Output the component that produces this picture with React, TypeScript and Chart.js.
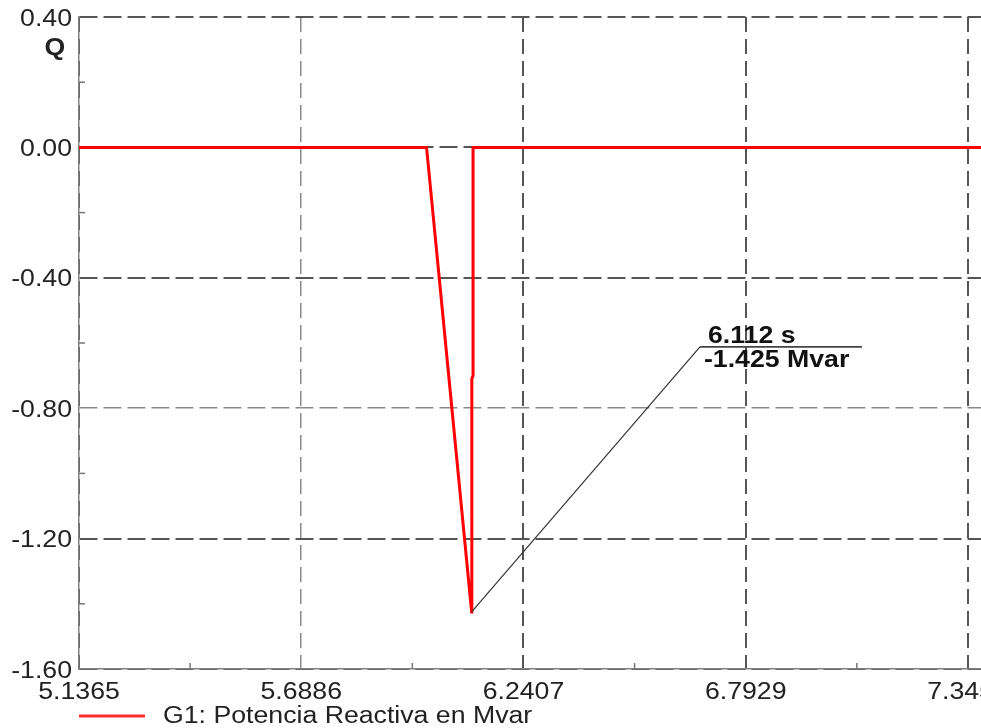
import React, { useEffect, useRef } from "react";
import { Chart, registerables } from "chart.js";

Chart.register(...registerables);

// ---- data ----
const times = [5.1365, 6.0, 6.112, 6.1125, 6.1155, 6.1155, 7.3775];
const qValues = [0, 0, -1.425, -0.71, -0.70, 0, 0];
const xTicks = [5.1365, 5.68863, 6.24076, 6.79289, 7.34502];
const xTickLabels = ["5.1365", "5.6886", "6.2407", "6.7929", "7.3450"];
const yTicks = [0.4, 0, -0.4, -0.8, -1.2, -1.6];
const yTickLabels = ["0.40", "0.00", "-0.40", "-0.80", "-1.20", "-1.60"];
const yMinor = [0.2, -0.2, -0.6, -1.0, -1.4];
const peakTime = 6.112;
const peakValue = -1.425;
const annotationX = [6.6793, 7.0817];
const annotationY = -0.612;
const seriesLabel = "G1: Potencia Reactiva en Mvar";
const yAxisTitle = "Q";
const lightXGrid = [5.68863];
const lightYGrid = [-0.8];

const SX = 1.16;
const TEXT = "#222222";

function drawText(
  ctx: CanvasRenderingContext2D,
  text: string,
  x: number,
  y: number,
  align: "left" | "center" | "right",
  font: string,
  color = TEXT
) {
  ctx.save();
  ctx.font = font;
  ctx.fillStyle = color;
  ctx.textBaseline = "alphabetic";
  ctx.textAlign = "left";
  const w = ctx.measureText(text).width * SX;
  const x0 = align === "center" ? x - w / 2 : align === "right" ? x - w : x;
  ctx.translate(x0, y);
  ctx.scale(SX, 1);
  ctx.fillText(text, 0, 0);
  ctx.restore();
}

const overlayPlugin = {
  id: "overlay",
  afterDraw(chart: any) {
    const ctx: CanvasRenderingContext2D = chart.ctx;
    const xs = chart.scales.x;
    const ys = chart.scales.y;
    const area = chart.chartArea;
    const font = "23px 'Liberation Sans', Arial, sans-serif";
    const bold = "bold 23px 'Liberation Sans', Arial, sans-serif";

    // minor ticks
    ctx.save();
    ctx.strokeStyle = "#777";
    ctx.lineWidth = 1.5;
    yMinor.forEach((v) => {
      const y = ys.getPixelForValue(v);
      ctx.beginPath();
      ctx.moveTo(area.left, y);
      ctx.lineTo(area.left + 6, y);
      ctx.stroke();
    });
    for (let i = 0; i < xTicks.length - 1; i++) {
      const x = xs.getPixelForValue((xTicks[i] + xTicks[i + 1]) / 2);
      ctx.beginPath();
      ctx.moveTo(x, area.bottom);
      ctx.lineTo(x, area.bottom - 6);
      ctx.stroke();
    }
    ctx.restore();

    // y tick labels
    yTicks.forEach((v, i) => {
      const y = ys.getPixelForValue(v);
      drawText(ctx, yTickLabels[i], area.left - 7, y + 8.5, "right", font);
    });
    // x tick labels
    xTicks.forEach((v, i) => {
      const x = xs.getPixelForValue(v);
      drawText(ctx, xTickLabels[i], x, area.bottom + 30, "center", font);
    });
    // axis title
    drawText(ctx, yAxisTitle, area.left - 24, 55, "center", bold);

    // annotation
    const px = xs.getPixelForValue(peakTime);
    const py = ys.getPixelForValue(peakValue);
    const ax = xs.getPixelForValue(annotationX[0]);
    const ax2 = xs.getPixelForValue(annotationX[1]);
    const ay = ys.getPixelForValue(annotationY);
    ctx.save();
    ctx.strokeStyle = "#333";
    ctx.lineWidth = 1.2;
    ctx.beginPath();
    ctx.moveTo(px, py);
    ctx.lineTo(ax, ay);
    ctx.stroke();
    ctx.lineWidth = 1.8;
    ctx.strokeStyle = "#444";
    ctx.beginPath();
    ctx.moveTo(ax, ay);
    ctx.lineTo(ax2, ay);
    ctx.stroke();
    ctx.restore();
    drawText(ctx, `${peakTime.toFixed(3)} s`, ax + 8, ay - 4, "left", bold, "#111");
    drawText(ctx, `${peakValue.toFixed(3)} Mvar`, ax + 4, ay + 20, "left", bold, "#111");

    // legend
    ctx.save();
    ctx.strokeStyle = "#ff2a2a";
    ctx.lineWidth = 3;
    ctx.beginPath();
    ctx.moveTo(area.left, 716);
    ctx.lineTo(area.left + 66, 716);
    ctx.stroke();
    ctx.restore();
    drawText(ctx, seriesLabel, area.left + 84, 723, "left", font);
  },
};

const near = (a: number, list: number[]) => list.some((v) => Math.abs(v - a) < 1e-6);

export default function App() {
  const ref = useRef<HTMLCanvasElement | null>(null);
  useEffect(() => {
    if (!ref.current) return;
    const chart = new Chart(ref.current, {
      type: "line",
      data: {
        datasets: [
          {
            label: seriesLabel,
            data: times.map((t, i) => ({ x: t, y: qValues[i] })),
            borderColor: "#ff0000",
            borderWidth: 3,
            pointRadius: 0,
            tension: 0,
            fill: false,
          },
        ],
      },
      options: {
        animation: false,
        responsive: false,
        maintainAspectRatio: false,
        devicePixelRatio: 1,
        layout: { padding: { left: 79, top: 17, right: 0, bottom: 59 } },
        plugins: {
          legend: { display: false },
          tooltip: { enabled: false },
        },
        scales: {
          x: {
            type: "linear",
            min: 5.1365,
            max: 7.3775,
            afterBuildTicks: (s: any) => {
              s.ticks = xTicks.map((v) => ({ value: v }));
            },
            ticks: { display: false },
            grid: {
              color: (c: any) => (near(c.tick?.value, lightXGrid) ? "#8a8a8a" : "#555"),
              lineWidth: (c: any) => (near(c.tick?.value, lightXGrid) ? 1.5 : 2),
              drawTicks: false,
            },
            border: { display: true, color: "#808080", width: 1.5, dash: [15, 7] },
          },
          y: {
            type: "linear",
            min: -1.6,
            max: 0.4,
            afterBuildTicks: (s: any) => {
              s.ticks = yTicks.map((v) => ({ value: v }));
            },
            ticks: { display: false },
            grid: {
              color: (c: any) => (near(c.tick?.value, lightYGrid) ? "#8a8a8a" : "#555"),
              lineWidth: (c: any) => (near(c.tick?.value, lightYGrid) ? 1.5 : 2),
              drawTicks: false,
            },
            border: { display: true, color: "#808080", width: 1.5, dash: [18, 6] },
          },
        },
      },
      plugins: [overlayPlugin],
    } as any);
    return () => chart.destroy();
  }, []);
  return (
    <div style={{ position: "fixed", left: 0, top: 0, width: 981, height: 728, background: "#fff" }}>
      <canvas ref={ref} width={981} height={728} style={{ display: "block", width: 981, height: 728 }} />
    </div>
  );
}
